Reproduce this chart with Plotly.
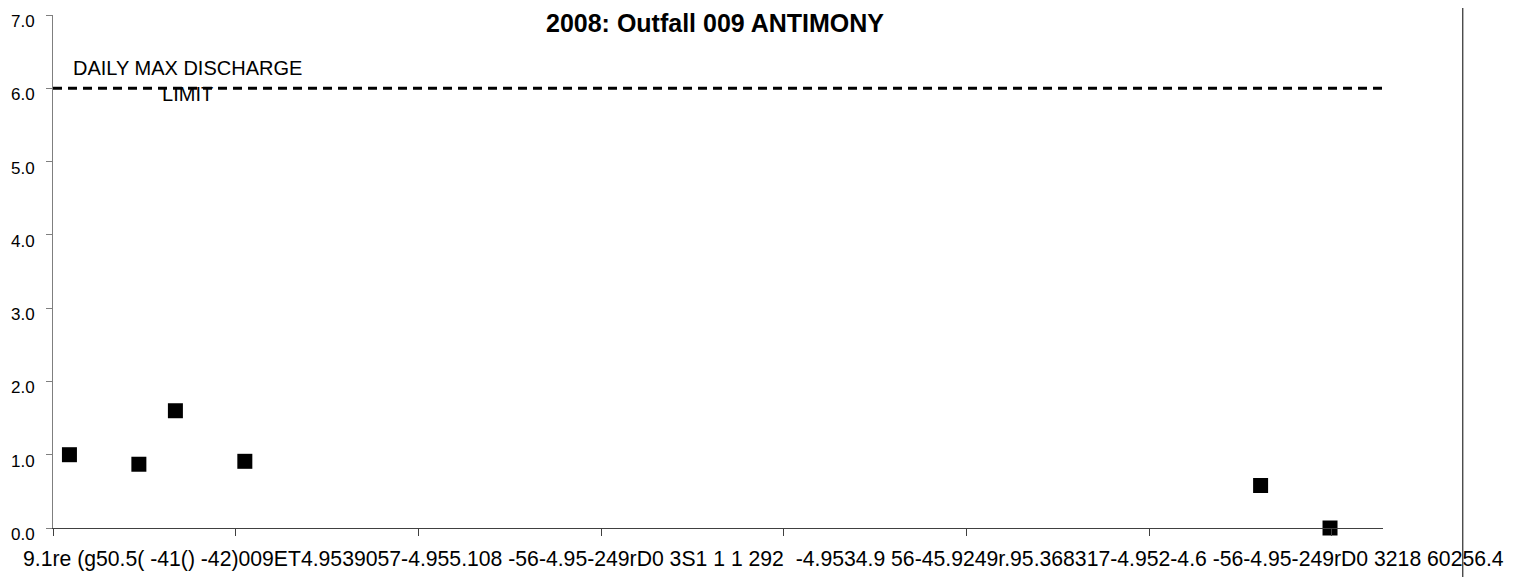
import pandas as pd
import plotly.graph_objects as go

# ---- data ----
sample_dates = ["2008-01-05", "2008-01-24", "2008-02-03", "2008-02-22", "2008-11-26", "2008-12-15"]
antimony = [1.0, 0.87, 1.6, 0.91, 0.58, 0.0]
limit_value = 6.0
limit_label = "DAILY MAX DISCHARGE<br>LIMIT"
title_text = "2008: Outfall 009 ANTIMONY"
x_label_text = ("9.1re (g50.5( -41() -42)009ET4.9539057-4.955.108 -56-4.95-249rD0 3S1 1 1 292  "
                "-4.9534.9 56-45.9249r.95.368317-4.952-4.6 -56-4.95-249rD0 3218 60256.4")
y_ticks = [0, 1, 2, 3, 4, 5, 6, 7]

axis_start = pd.Timestamp("2007-12-31 12:00")
axis_end = axis_start + pd.Timedelta(days=364)
x_ticks = pd.date_range(axis_start, axis_end, freq="50D")

FONT = "Liberation Sans, Arial, sans-serif"

fig = go.Figure()

fig.add_trace(go.Scatter(
    x=[axis_start, axis_end], y=[limit_value, limit_value],
    mode="lines", line=dict(color="black", width=3, dash="9px,6px"),
    hoverinfo="skip", showlegend=False,
))

fig.add_trace(go.Scatter(
    x=pd.to_datetime(sample_dates), y=antimony, mode="markers",
    marker=dict(symbol="square", size=15, color="black", line=dict(width=0)),
    showlegend=False, cliponaxis=False,
))

# page body adds an 8px offset, so the figure is 8px smaller than the window
fig.update_layout(
    width=1515, height=569,
    margin=dict(l=45, r=140, t=7, b=49, autoexpand=False),
    paper_bgcolor="white", plot_bgcolor="white",
    font=dict(family=FONT, color="black"),
    showlegend=False,
)

fig.update_xaxes(
    type="date", range=[axis_start, axis_end],
    tickvals=list(x_ticks), showticklabels=False,
    ticks="outside", ticklen=7, tickcolor="#404040", tickwidth=1,
    showline=True, linecolor="#404040", linewidth=1,
    showgrid=False, zeroline=False, automargin=False,
)

fig.update_yaxes(
    range=[0, 7], tickvals=y_ticks, tickformat=".1f",
    ticks="outside", ticklen=6, tickcolor="#7f7f7f", tickwidth=1,
    showline=True, linecolor="#7f7f7f", linewidth=1,
    showgrid=False, zeroline=False, automargin=False,
    tickfont=dict(family=FONT, size=17, color="black"),
    ticklabelstandoff=8, ticklabelshift=6, ticklabeloverflow="allow",
)

# title (kept fully inside the figure)
fig.add_annotation(
    text="<b>" + title_text + "</b>", xref="paper", yref="paper",
    x=0.4977, y=1.0136, xanchor="center", yanchor="top", showarrow=False,
    font=dict(family=FONT, size=25, color="black"), borderpad=0,
)

# limit label
fig.add_annotation(
    text=limit_label, xref="paper", yref="paper",
    x=0.1008, y=0.8707, xanchor="center", yanchor="middle", showarrow=False,
    align="center", font=dict(family=FONT, size=20, color="black"),
)

# garbled x axis label text
fig.add_annotation(
    text=x_label_text, xref="paper", yref="paper",
    x=0.5341, y=-0.0598, xanchor="center", yanchor="middle", showarrow=False,
    font=dict(family=FONT, size=21.2, color="black"),
)

# vertical line at right
fig.add_shape(
    type="line", xref="paper", yref="paper",
    x0=1.06, x1=1.06, y0=-0.2, y1=1.2,
    line=dict(color="black", width=1),
)

fig.write_html("out.html")
